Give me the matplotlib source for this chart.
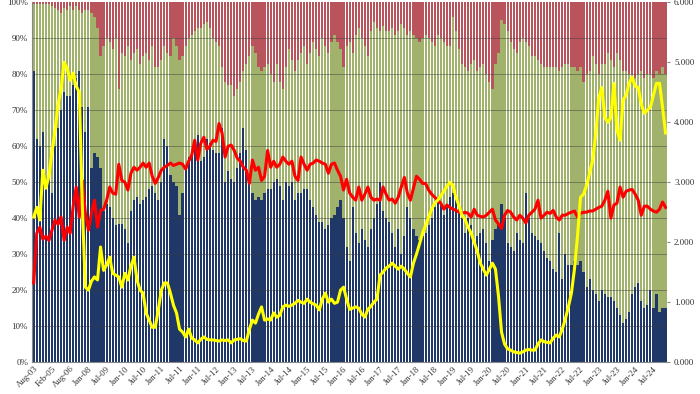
import numpy as np
import matplotlib
matplotlib.use('Agg')
import matplotlib.pyplot as plt
from matplotlib.ticker import FuncFormatter

# share of the total, per month (bottom / top of the stack, in %)
blue_pct = [
    81, 62, 60, 64, 49, 52, 47, 60, 65, 70,
    75, 74, 74, 77, 79, 81, 71, 64, 71, 54,
    58, 57, 54, 42, 44, 43, 40, 38, 38.5, 38.5,
    37, 33, 42, 45, 46, 44, 45, 46, 48, 49,
    47, 45, 50, 62, 60, 52, 50, 49, 41, 47,
    54, 57, 58, 60, 63, 56, 57, 62, 61, 59,
    58, 58, 65, 50, 53, 51, 50, 54, 58, 65,
    59, 52, 47, 45, 46, 45, 47, 48, 48, 50,
    51, 49, 45, 50, 49, 50, 45, 47, 47, 48,
    48, 45, 43, 41, 39, 39, 37, 38, 40, 41,
    43, 45, 40, 32, 28, 43, 36, 33, 37, 34,
    32, 37, 40, 44, 50, 42, 40, 39, 36, 32,
    37, 30, 35, 43, 40, 37, 35, 34, 35, 36,
    38, 40, 43, 45, 44, 41, 43, 46, 47, 47,
    44, 40, 36, 40, 38, 34, 35, 36, 37, 33,
    28, 34, 37, 38, 44, 40, 33, 32, 31, 36,
    34, 33, 47, 40, 36, 35, 34, 33, 31, 29,
    28, 26, 25, 36, 23, 30, 27, 27, 28, 27,
    28, 25, 21, 23, 20, 19, 17, 20, 19, 18,
    18, 17, 15, 13, 11, 12, 14, 19, 21, 22,
    17, 15, 16, 20, 15, 19, 14, 15, 15]

red_pct = [
    0.5, 0.5, 0.5, 0.5, 0.5, 0.5, 1, 1.5, 2, 3,
    1.5, 2, 1, 2, 1, 2, 3, 2, 2, 3,
    4, 7, 15, 12, 10, 11, 13, 10, 24, 14,
    15, 12, 16, 14, 13, 17, 15, 14, 16, 12,
    18, 18, 16, 12, 14, 15, 10, 12, 16, 15,
    12, 10, 9, 8, 7, 7, 6, 5.5, 7, 10,
    11, 12, 18, 22, 23, 23, 26, 24, 22, 19,
    17, 15, 12, 14, 18, 19, 18, 17, 20, 22,
    17, 22, 24, 18, 13, 16, 19, 16, 14, 12,
    17, 14, 11, 13, 15, 10, 12, 14, 11, 9,
    11, 13, 18, 12, 11, 14, 9, 7, 10, 12,
    15, 8, 5.5, 7, 8, 6.5, 8, 8, 7, 9,
    8, 6, 7, 9, 8, 9, 10, 11, 10, 9,
    10, 11, 12, 9, 10, 11, 12, 12, 4, 8,
    13, 17, 18, 19, 17, 16, 19, 18, 17, 20,
    22, 24, 17, 14, 5, 6, 8, 11, 13, 14,
    11, 10, 11, 12, 15, 15, 16, 17, 18, 18,
    18, 18, 18, 19, 18, 17, 17, 18, 18, 19,
    18, 22, 20, 19, 15, 17, 20, 17, 17, 14,
    16, 18, 14, 16, 19, 19, 20, 20, 21, 20,
    19, 21, 20, 20, 21, 19, 20, 18, 20]

# right axis lines
yellow_line = [
    2.42, 2.58, 2.37, 3.2, 2.9, 3.1, 3.5, 3.85, 4.3, 4.55,
    5.0, 4.9, 4.7, 4.82, 4.6, 4.5, 2.6, 1.25, 1.2, 1.35,
    1.42, 1.37, 1.92, 1.53, 1.62, 1.75, 1.48, 1.45, 1.42, 1.25,
    1.48, 1.37, 1.6, 1.75, 1.37, 1.2, 1.15, 0.82, 0.7, 0.58,
    0.58, 0.87, 1.2, 1.32, 1.32, 1.15, 0.95, 0.82, 0.55, 0.5,
    0.42, 0.55, 0.4, 0.37, 0.32, 0.38, 0.42, 0.38, 0.37, 0.37,
    0.36, 0.35, 0.37, 0.36, 0.37, 0.32, 0.37, 0.38, 0.39, 0.36,
    0.35, 0.55, 0.7, 0.65, 0.8, 0.92, 0.7, 0.72, 0.7, 0.82,
    0.75, 0.78, 0.92, 0.95, 0.93, 0.95, 0.98, 1.03, 1.0, 0.98,
    1.05, 1.0, 0.97, 0.95, 0.87, 1.05, 1.15, 1.0, 1.05, 0.98,
    1.0, 1.2, 1.25, 1.05, 0.88, 0.9, 0.92, 0.9, 0.8, 0.75,
    0.88, 0.93, 1.0, 1.05, 1.45, 1.5, 1.57, 1.6, 1.65, 1.6,
    1.55, 1.6, 1.55, 1.48, 1.42, 1.65, 1.8, 1.97, 2.15, 2.28,
    2.42, 2.55, 2.65, 2.7, 2.77, 2.85, 2.93, 3.0, 2.95, 2.75,
    2.6, 2.45, 2.38, 2.25, 2.15, 2.0, 1.85, 1.65, 1.55, 1.45,
    1.55, 1.65, 1.55, 1.1, 0.5, 0.3, 0.22, 0.2, 0.17, 0.16,
    0.15, 0.17, 0.2, 0.21, 0.2, 0.2, 0.3, 0.37, 0.34, 0.33,
    0.32, 0.4, 0.45, 0.42, 0.55, 0.72, 0.92, 1.15, 1.55, 2.1,
    2.75, 2.8, 2.95, 3.15, 3.37, 3.8, 4.4, 4.58, 4.08, 4.0,
    4.08, 4.65, 3.87, 3.7, 4.37, 4.45, 4.65, 4.75, 4.6, 4.58,
    4.3, 4.15, 4.2, 4.25, 4.45, 4.65, 4.65, 4.25, 3.82]

red_line = [
    1.32, 2.15, 2.25, 2.05, 2.1, 2.03, 2.2, 2.37, 2.3, 2.42,
    2.03, 2.25, 2.15, 2.6, 2.92, 2.42, 3.03, 2.48, 2.2, 2.48,
    2.7, 2.25, 2.53, 2.55, 2.7, 2.92, 2.82, 2.8, 3.3, 3.03,
    3.0, 2.87, 3.15, 3.25, 3.2, 3.25, 3.32, 3.25, 3.32, 3.1,
    2.98, 3.08, 3.2, 3.25, 3.28, 3.32, 3.28, 3.3, 3.32, 3.3,
    3.22, 3.35, 3.45, 3.7, 3.37, 3.65, 3.75, 3.55, 3.6, 3.7,
    3.68, 3.98, 3.82, 3.42, 3.6, 3.62, 3.53, 3.4, 3.35, 3.25,
    3.2, 2.98, 3.37, 3.2, 3.25, 3.03, 3.1, 3.53, 3.25, 3.35,
    3.25, 3.3, 3.42, 3.35, 3.3, 3.35, 3.1, 3.03, 3.42, 3.3,
    3.2, 3.3, 3.32, 3.37, 3.35, 3.32, 3.3, 3.15, 3.3, 3.32,
    3.2, 3.1, 2.87, 3.05, 2.82, 2.75, 2.7, 2.92, 2.7, 2.8,
    2.92, 2.75, 2.7, 2.72, 2.7, 2.92, 2.8, 2.7, 2.72, 2.65,
    2.75, 2.92, 3.08, 2.82, 2.7, 2.9, 3.1, 3.05, 2.98, 2.98,
    2.87, 2.8, 2.75, 2.7, 2.65, 2.55, 2.62, 2.58, 2.55, 2.53,
    2.5, 2.48, 2.5, 2.48, 2.42, 2.55, 2.45, 2.43, 2.42, 2.45,
    2.5, 2.55, 2.37, 2.3, 2.23, 2.45, 2.53, 2.5, 2.42, 2.37,
    2.45, 2.4, 2.32, 2.45, 2.5, 2.55, 2.7, 2.4, 2.45, 2.5,
    2.48, 2.53, 2.42, 2.37, 2.45, 2.45, 2.48, 2.5, 2.52, 2.42,
    2.48, 2.5, 2.5, 2.52, 2.52, 2.55, 2.58, 2.6, 2.7, 2.85,
    2.4, 2.62, 2.65, 2.92, 2.75, 2.85, 2.87, 2.88, 2.8, 2.7,
    2.45, 2.6, 2.6, 2.55, 2.52, 2.5, 2.55, 2.67, 2.58]

tick_labels = ['Aug-03', 'Feb-05', 'Aug-06', 'Jan-08', 'Jul-09', 'Jan-10',
               'Jul-10', 'Jan-11', 'Jul-11', 'Jan-11', 'Jul-12', 'Jan-13',
               'Jul-13', 'Jan-14', 'Jul-14', 'Jan-15', 'Jul-15', 'Jan-16',
               'Jul-16', 'Jan-17', 'Jul-17', 'Jan-18', 'Jul-18', 'Jan-19',
               'Jul-19', 'Jan-20', 'Jul-20', 'Jan-21', 'Jul-21', 'Jan-22',
               'Jul-22', 'Jan-23', 'Jul-23', 'Jan-24', 'Jul-24']

plt.rcParams['font.family'] = ['Liberation Serif', 'DejaVu Serif']

blue = np.array(blue_pct, dtype=float)
red = np.array(red_pct, dtype=float)
green = 100 - blue - red
x = np.arange(len(blue))

fig = plt.figure(figsize=(7, 3.94), dpi=100)
ax = fig.add_axes([0.046, 0.081, 0.907, 0.913])

w = 0.72
ax.bar(x, blue, width=w, color='#1f3868', zorder=2)
ax.bar(x, green, width=w, bottom=blue, color='#a1b26c', zorder=2)
ax.bar(x, red, width=w, bottom=blue + green, color='#b9545d', zorder=2)

for g in np.arange(10, 100, 10):
    ax.axhline(g, color='#3a3a3a', lw=0.6, alpha=0.55, zorder=2.5)

ax.set_xlim(-0.5, len(x) - 0.5)
ax.set_ylim(0, 100)
ax.set_yticks(np.arange(0, 101, 10))
ax.yaxis.set_major_formatter(FuncFormatter(lambda v, p: '%d%%' % v))
ax.set_xticks(np.arange(0, 6 * len(tick_labels), 6))
ax.set_xticklabels(tick_labels, rotation=45, ha='right',
                   rotation_mode='anchor', fontsize=6.3, color='#333333')
ax.tick_params(axis='y', labelsize=6.5, length=0, pad=3, labelcolor='#333333')
ax.tick_params(axis='x', length=0, pad=2)
for s in ['top', 'right']:
    ax.spines[s].set_visible(False)
ax.spines['left'].set_color('#888888')
ax.spines['bottom'].set_color('#888888')

ax2 = ax.twinx()
ax2.plot(x, yellow_line, color='#ffff00', lw=2.2, zorder=4)
ax2.plot(x, red_line, color='#ff0000', lw=2.2, zorder=3)
ax2.set_ylim(0, 6)
ax2.set_yticks(np.arange(0, 7, 1))
ax2.yaxis.set_major_formatter(FuncFormatter(lambda v, p: '%.3f' % v))
ax2.tick_params(axis='y', labelsize=6.5, length=2, pad=3, color='#888888',
                labelcolor='#333333')
for s in ['top', 'right', 'left', 'bottom']:
    ax2.spines[s].set_visible(False)

fig.savefig('out.png', dpi=100, facecolor='white')
